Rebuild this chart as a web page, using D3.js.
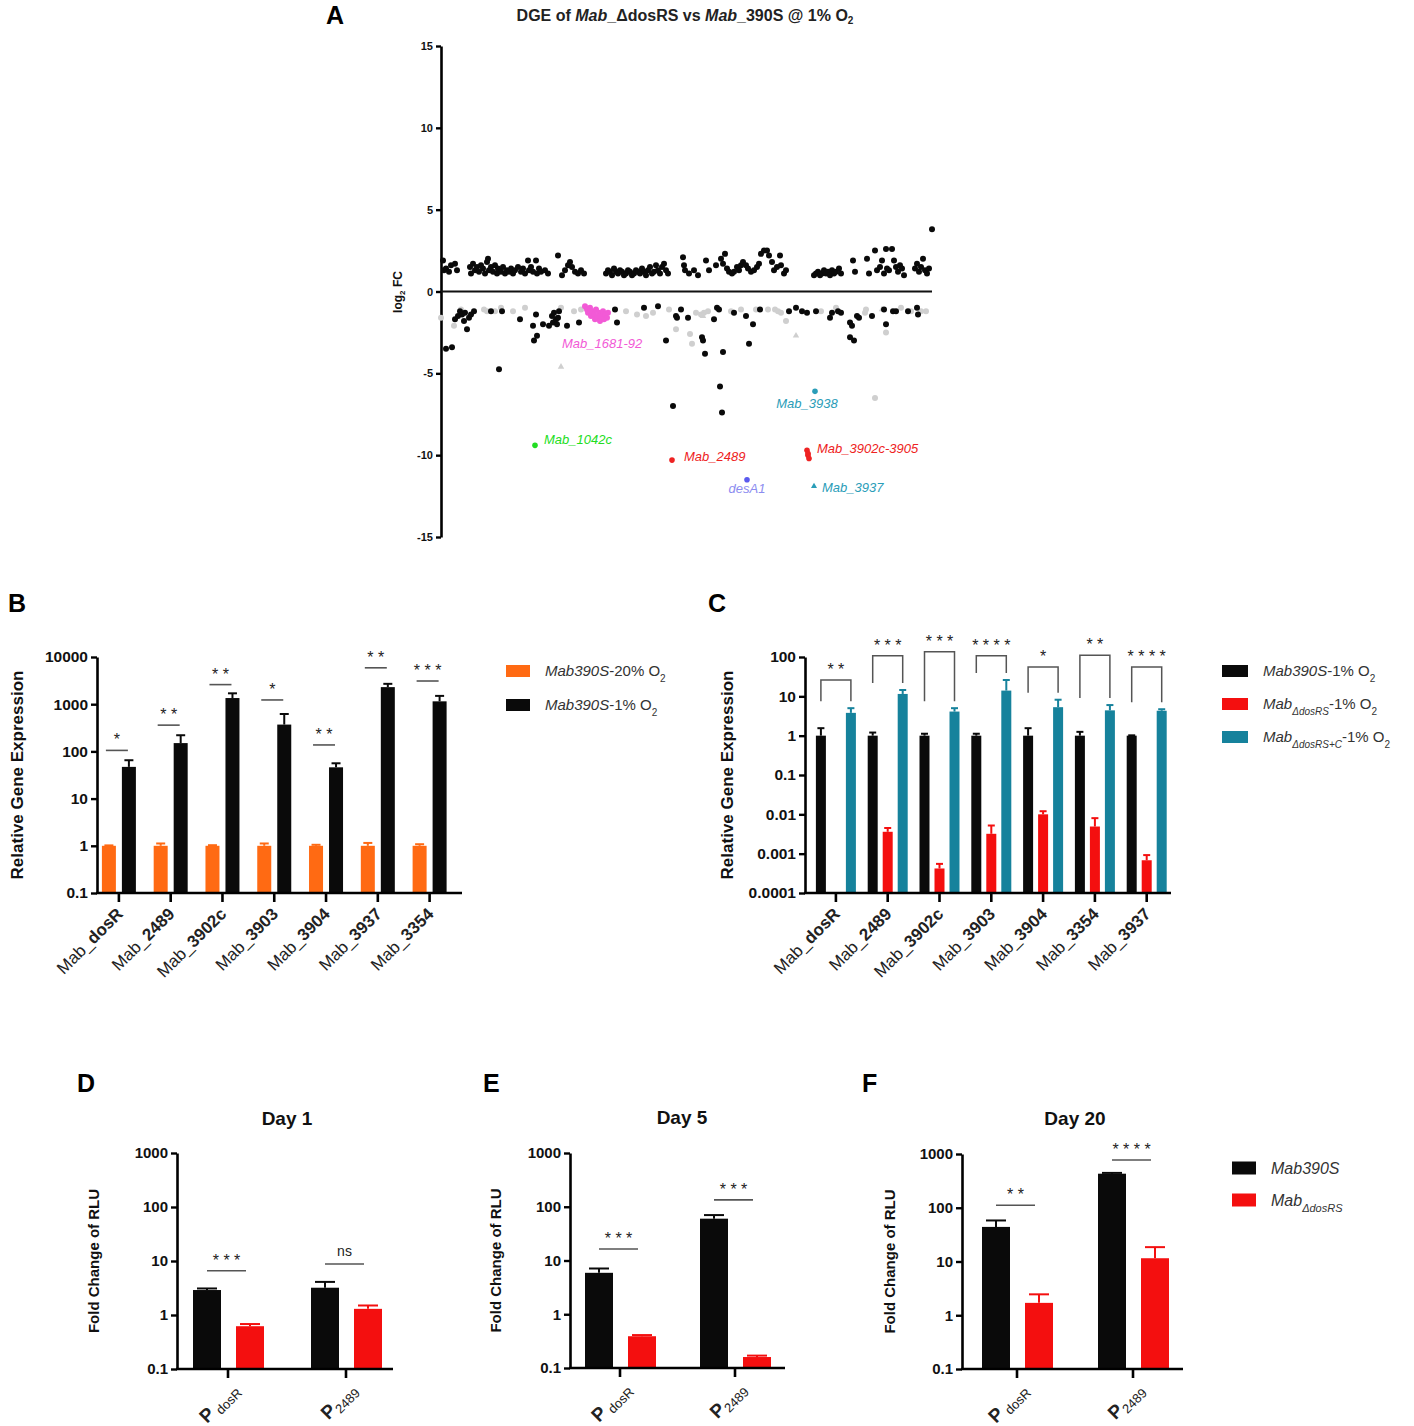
<!DOCTYPE html>
<html>
<head>
<meta charset="utf-8">
<script src="https://cdn.jsdelivr.net/npm/d3@7"></script>
<style>
  body { margin: 0; background: #fff; }
</style>
</head>
<body>
<div id="chart"></div>
<script>
// ---------- Panel A data: [gene index, log2FC] ----------
const upGenes = [
  [2,1.9],[3,1.3],[5,1.4],[8,1.2],[10,1.6],[14,1.7],[16,1.3],
  [29,1.5],[30,1.1],[32,1.7],[34,1.3],[36,1.5],[38,1.2],[40,1.6],[42,1.4],[44,1.1],[46,1.8],[47,2.0],
  [48,1.3],[50,1.5],[52,1.2],[54,1.6],[56,1.1],[57,1.4],[60,1.2],[62,1.5],[64,1.1],[66,1.3],[68,1.2],
  [70,1.4],[72,1.1],[74,1.3],[77,1.5],[80,1.2],[82,1.4],[84,1.1],[87,1.9],[88,1.3],[90,1.5],[92,1.2],
  [95,1.9],[96,1.1],[98,1.4],[100,1.2],[104,1.3],[107,1.1],[117,2.2],
  [121,1.0],[124,1.3],[127,1.6],[129,1.8],[131,1.5],[134,1.2],[137,1.1],[140,1.3],[143,1.1],
  [165,1.1],[167,1.3],[169,1.2],[171,1.0],[173,1.4],[175,1.2],[177,1.1],[179,1.3],[181,1.2],[183,1.0],
  [185,1.1],[187,1.3],[189,1.2],[191,1.0],[193,1.1],[195,1.3],[197,1.2],[199,1.1],[201,1.4],[203,1.2],
  [205,1.0],[207,1.3],[209,1.5],[211,1.1],[213,1.2],[215,1.6],[217,1.3],[219,1.1],[221,1.5],[223,1.7],
  [225,1.3],[227,1.1],
  [242,2.1],[243,1.6],[244,1.3],[248,1.1],[253,1.3],[257,1.0],[265,1.9],[268,1.3],[275,1.6],[280,2.0],
  [282,1.7],[284,2.3],[286,1.4],[288,1.2],[291,1.1],[293,1.2],[296,1.5],[298,1.3],[300,1.6],[302,1.8],
  [305,1.6],[307,1.4],[310,1.2],[313,1.3],[316,1.5],[318,1.7],[320,2.3],[323,2.5],[326,2.5],[328,2.2],
  [331,1.8],[333,1.3],[336,1.5],[339,2.2],[340,1.6],[343,1.1],[345,1.3],
  [373,1.0],[375,1.1],[377,1.2],[379,1.0],[381,1.1],[383,1.3],[385,1.1],[387,1.2],[389,1.0],[391,1.3],
  [393,1.1],[395,1.2],[398,1.4],[400,1.1],[412,1.9],[414,1.2],[426,2.0],[428,1.1],[434,2.5],[436,1.3],
  [439,1.5],[441,1.9],[443,1.1],[445,2.6],[446,1.4],[448,1.3],[451,2.6],[453,1.9],[455,1.5],[457,1.2],
  [459,1.6],[461,1.4],[463,1.0],[474,1.4],[476,1.7],[478,1.2],[480,1.5],[482,2.0],[484,1.3],[486,1.1],
  [488,1.4],[491,3.8]
];
const downGenes = [
  [5,-3.5],[11,-3.4],[14,-1.7],[17,-1.5],[19,-1.2],[21,-1.4],[23,-1.8],[24,-1.3],[26,-2.3],[28,-1.6],
  [30,-1.4],[33,-1.2],[50,-1.2],[58,-4.75],[61,-1.2],[79,-1.7],[92,-2.1],[93,-3.0],[96,-2.7],[95,-1.4],
  [102,-2.0],[108,-2.1],[111,-1.5],[112,-1.9],[113,-1.3],[115,-1.7],[116,-2.0],[117,-1.6],[118,-1.2],
  [126,-2.1],[138,-1.9],[174,-1.1],[176,-1.9],[203,-1.0],[217,-0.9],[225,-3.0],[232,-7.0],[235,-1.5],
  [236,-1.6],[240,-1.1],[247,-1.6],[261,-2.8],[262,-3.0],[264,-3.8],[273,-1.7],[276,-1.0],[278,-1.1],
  [279,-5.8],[281,-7.4],[282,-3.7],[293,-1.3],[305,-1.5],[308,-3.2],[312,-2.0],[319,-1.1],[348,-1.2],
  [355,-1.0],[361,-1.2],[366,-1.3],[375,-1.2],[389,-1.6],[391,-1.3],[397,-1.2],[400,-1.3],[409,-1.9],
  [411,-2.1],[409,-2.8],[413,-3.0],[416,-1.5],[418,-1.6],[431,-1.5],[443,-1.1],[445,-2.0],[452,-1.2],
  [455,-1.2],[467,-1.2],[476,-1.0],[477,-1.4]
];
const nsGenes = [
  [0,-1.6],[13,-2.1],[20,-1.1],[43,-1.1],[46,-1.2],[54,-1.2],[60,-1.0],[72,-1.2],[84,-1.0],[120,-1.0],
  [133,-1.2],[140,-1.1],[185,-1.2],[196,-1.4],[205,-1.5],[212,-1.3],[228,-1.1],[235,-2.3],[249,-2.6],
  [251,-3.2],[255,-1.3],[260,-1.4],[263,-1.3],[267,-1.2],[290,-1.2],[300,-1.1],[315,-1.1],[327,-1.1],
  [334,-1.1],[337,-1.2],[340,-1.3],[345,-1.8],[380,-1.2],[395,-1.0],[424,-1.3],[425,-1.1],[434,-6.5],
  [445,-2.5],[460,-1.0],[470,-1.2],[480,-1.2],[485,-1.2]
];
const nsTriangles = [[120,-4.6],[262,-1.5],[355,-2.7],[441,-1.1]];
const cluster1681 = [
  [144,-0.9],[146,-1.1],[147,-1.3],[149,-1.0],[150,-1.5],[151,-1.2],[153,-1.4],[154,-1.7],[155,-1.1],
  [156,-1.6],[158,-1.3],[159,-1.8],[160,-1.5],[162,-1.2],[163,-1.7],[164,-1.4],[166,-1.6],[167,-1.3]
];
const markedNames = ['Mab_1042c', 'Mab_2489', 'Mab_3902c-3905', 'Mab_3902c-3905', 'Mab_3902c-3905',
  'Mab_3902c-3905', 'desA1', 'Mab_3938', 'Mab_3937'];
const markedIdx = [94, 231, 366, 367, 368, 367, 306, 374, 373];
const markedFC = [-9.4, -10.3, -9.7, -10.0, -10.2, -9.9, -11.5, -6.1, -11.9];

// ---------- Panel B data ----------
const genesB = ['dosR', '2489', '3902c', '3903', '3904', '3937', '3354'];
const b20 = [1, 1, 1, 1, 1, 1, 1];
const b20Err = [1.02, 1.12, 1.03, 1.12, 1.05, 1.15, 1.08];
const b1 = [47, 150, 1350, 370, 46, 2300, 1150];
const b1Err = [65, 220, 1700, 620, 56, 2700, 1500];
const bSig = ['*', '* *', '* *', '*', '* *', '* *', '* * *'];
const bSigLevel = [105, 360, 2600, 1230, 137, 5900, 3100];

// ---------- Panel C data ----------
const genesC = ['dosR', '2489', '3902c', '3903', '3904', '3354', '3937'];
const c390 = [1, 1, 1, 1, 1, 1, 1];
const c390Err = [1.55, 1.2, 1.12, 1.12, 1.55, 1.25, 1.02];
const cDel = [null, 0.0036, 0.00042, 0.0032, 0.010, 0.0049, 0.00068];
const cDelErr = [null, 0.0045, 0.00055, 0.0052, 0.012, 0.008, 0.00092];
const cComp = [3.8, 11.5, 4.1, 14, 5.3, 4.4, 4.3];
const cCompErr = [5.0, 14.5, 5.0, 26, 8.2, 6.0, 4.7];
const cSig = ['* *', '* * *', '* * *', '* * * *', '*', '* *', '* * * *'];
const cSigLevel = [26, 107, 135, 107, 56, 110, 56];

// ---------- Panels D-F data ----------
const promoters = ['dosR', '2489'];
const day1WT = [2.9, 3.2], day1WTErr = [3.1, 4.1];
const day1Del = [0.62, 1.3], day1DelErr = [0.68, 1.5];
const day1Sig = ['* * *', 'ns'], day1SigLevel = [6.6, 8.8];
const day5WT = [5.9, 60], day5WTErr = [7.1, 70];
const day5Del = [0.39, 0.16], day5DelErr = [0.41, 0.17];
const day5Sig = ['* * *', '* * *'], day5SigLevel = [16.4, 134];
const day20WT = [44, 430], day20WTErr = [58, 445];
const day20Del = [1.7, 11.5], day20DelErr = [2.45, 18.5];
const day20Sig = ['* *', '* * * *'], day20SigLevel = [111, 775];

// ---------- styles ----------
const FONT = 'Arial, "Liberation Sans", Helvetica, sans-serif';
const ORANGE = '#ff6a13', BLACK = '#0a0a0a', RED = '#f40f0f', TEAL = '#16829c';
const markColor = {
  'Mab_1042c': '#22dd22', 'Mab_2489': '#ee2222', 'Mab_3902c-3905': '#ee2222',
  'desA1': '#5a5aee', 'Mab_3938': '#2a9db8', 'Mab_3937': '#2a9db8'
};
const markLabelColor = Object.assign({}, markColor, { 'desA1': '#8c8cf0' });
// label offsets [dx, dy, anchor] from the first point of each gene
const markLabelPos = {
  'Mab_1042c': [9, -1, 'start'], 'Mab_2489': [12, 1, 'start'], 'Mab_3902c-3905': [10, 3, 'start'],
  'desA1': [0, 13, 'middle'], 'Mab_3938': [-8, 17, 'middle'], 'Mab_3937': [8, 6, 'start']
};

const svg = d3.select('#chart').append('svg')
    .attr('width', 1414).attr('height', 1426)
    .style('font-family', FONT);

function panelLetter(x, y, s) {
  svg.append('text').attr('x', x).attr('y', y).attr('font-size', 25)
      .attr('font-weight', 'bold').attr('fill', '#000').text(s);
}

function styleAxis(sel, fontSize) {
  sel.select('.domain').attr('stroke', '#000').attr('stroke-width', 2.6);
  sel.selectAll('.tick line').attr('stroke', '#000').attr('stroke-width', 2.4);
  sel.selectAll('.tick text').attr('font-size', fontSize).attr('font-weight', 'bold')
      .attr('fill', '#111').attr('font-family', FONT);
}

// ======================= Panel A =======================
(function panelA() {
  const ax = d3.scaleLinear().domain([0, 491]).range([441, 932]);
  const ay = d3.scaleLinear().domain([-15, 15]).range([537, 46]);
  const g = svg.append('g');

  const t = g.append('text').attr('x', 685).attr('y', 21).attr('text-anchor', 'middle')
      .attr('font-size', 16).attr('font-weight', 'bold').attr('fill', '#222');
  t.append('tspan').text('DGE of ');
  t.append('tspan').attr('font-style', 'italic').text('Mab');
  t.append('tspan').text('_ΔdosRS vs ');
  t.append('tspan').attr('font-style', 'italic').text('Mab');
  t.append('tspan').text('_390S @ 1% O');
  t.append('tspan').attr('font-size', 10).attr('dy', 3).text('2');

  const yl = g.append('text').attr('transform', 'translate(402,292) rotate(-90)')
      .attr('text-anchor', 'middle').attr('font-size', 12).attr('font-weight', 'bold').attr('fill', '#111');
  yl.append('tspan').text('log');
  yl.append('tspan').attr('font-size', 8).attr('dy', 3).text('2');
  yl.append('tspan').attr('dy', -3).text(' FC');

  const yAxis = g.append('g').attr('transform', 'translate(441,0)')
      .call(d3.axisLeft(ay).tickValues([-15, -10, -5, 0, 5, 10, 15])
          .tickFormat(d => String(d)).tickSize(5).tickSizeOuter(0));
  styleAxis(yAxis, 11);

  g.append('line').attr('x1', ax.range()[0]).attr('x2', ax.range()[1])
      .attr('y1', ay(0)).attr('y2', ay(0)).attr('stroke', '#111').attr('stroke-width', 2.2);

  const dot = (data, color) => g.append('g').selectAll('circle').data(data).join('circle')
      .attr('cx', d => ax(d[0])).attr('cy', d => ay(d[1])).attr('r', 3).attr('fill', color);

  dot(nsGenes, '#cfcfcf');
  g.append('g').selectAll('path').data(nsTriangles).join('path')
      .attr('transform', d => `translate(${ax(d[0])},${ay(d[1])})`)
      .attr('d', d3.symbol(d3.symbolTriangle, 18)).attr('fill', '#cfcfcf');
  dot(upGenes, BLACK);
  dot(downGenes, BLACK);
  dot(cluster1681, '#f25ad6');

  markedNames.forEach((name, i) => {
    const x = ax(markedIdx[i]), y = ay(markedFC[i]);
    if (name === 'Mab_3937') {
      g.append('path').attr('transform', `translate(${x},${y})`)
          .attr('d', d3.symbol(d3.symbolTriangle, 16)).attr('fill', markColor[name]);
    } else {
      g.append('circle').attr('cx', x).attr('cy', y).attr('r', 2.8).attr('fill', markColor[name]);
    }
  });

  const seen = new Set();
  markedNames.forEach((name, i) => {
    if (seen.has(name)) return;
    seen.add(name);
    const p = markLabelPos[name];
    g.append('text').attr('x', ax(markedIdx[i]) + p[0]).attr('y', ay(markedFC[i]) + p[1])
        .attr('text-anchor', p[2]).attr('font-size', 13).attr('font-style', 'italic')
        .attr('fill', markLabelColor[name]).text(name);
  });

  g.append('text').attr('x', ax(cluster1681[0][0]) - 23).attr('y', ay(cluster1681[0][1]) + 42)
      .attr('font-size', 13).attr('font-style', 'italic').attr('fill', '#f25ad6').text('Mab_1681-92');
})();

// ======================= bar panels =======================
function subText(sel, parts) {
  parts.forEach(p => {
    const ts = sel.append('tspan').text(p.t);
    if (p.i) ts.attr('font-style', 'italic');
    if (p.b) ts.attr('font-weight', 'bold');
    if (p.sub) ts.attr('font-size', p.sub).attr('baseline-shift', 'sub');
  });
}

function barPanel(o) {
  const g = svg.append('g');
  const y = d3.scaleLog().domain(o.yDomain).range([o.yBottom, o.yTop]);
  const x = d3.scaleBand().domain(o.cats).range(o.xRange);
  const cx = (c, s) => x(c) + x.bandwidth() / 2 + s.offset;

  o.series.forEach(s => {
    const rows = o.cats.map((c, i) => ({ c, v: s.values[i], e: s.errs[i] })).filter(d => d.v != null);
    const sg = g.append('g');
    sg.selectAll('line.err').data(rows).join('line').attr('class', 'err')
        .attr('x1', d => cx(d.c, s)).attr('x2', d => cx(d.c, s))
        .attr('y1', d => y(d.v)).attr('y2', d => y(d.e))
        .attr('stroke', s.color).attr('stroke-width', 2);
    sg.selectAll('line.cap').data(rows).join('line').attr('class', 'cap')
        .attr('x1', d => cx(d.c, s) - o.capW / 2).attr('x2', d => cx(d.c, s) + o.capW / 2)
        .attr('y1', d => y(d.e)).attr('y2', d => y(d.e))
        .attr('stroke', s.color).attr('stroke-width', 2);
    sg.selectAll('rect').data(rows).join('rect')
        .attr('x', d => cx(d.c, s) - o.barW / 2).attr('y', d => y(d.v))
        .attr('width', o.barW).attr('height', d => o.yBottom - y(d.v))
        .attr('fill', s.color);
  });

  // significance marks
  const sA = o.series[0], sB = o.series[o.series.length - 1];
  o.cats.forEach((c, i) => {
    const xl = cx(c, sA), xr = cx(c, sB) + (o.bracket ? 0 : -4);
    const yt = y(o.sigLevel[i]);
    if (o.bracket) {
      const top = Math.max(sA.errs[i], sB.errs[i]);
      const yb = y(top) - 7;
      g.append('path').attr('d', `M${xl},${yb}V${yt}H${xr}V${yb}`)
          .attr('fill', 'none').attr('stroke', '#555').attr('stroke-width', 1.5);
    } else {
      g.append('line').attr('x1', xl - o.sigPad).attr('x2', xr + o.sigPad).attr('y1', yt).attr('y2', yt)
          .attr('stroke', '#555').attr('stroke-width', 1.6);
    }
    const ns = o.sig[i] === 'ns';
    g.append('text').attr('x', (xl + xr) / 2).attr('y', yt - (ns ? 8 : 5))
        .attr('text-anchor', 'middle').attr('font-size', ns ? 14 : 16).attr('fill', '#222')
        .text(o.sig[i]);
  });

  // axes
  const yAxis = g.append('g').attr('transform', `translate(${o.axisX},0)`)
      .call(d3.axisLeft(y).tickValues(o.yTicks).tickFormat(d => String(d)).tickSize(6).tickSizeOuter(0));
  styleAxis(yAxis, o.tickFont);
  g.append('line').attr('x1', o.axisX - 1).attr('x2', o.xEnd)
      .attr('y1', o.yBottom).attr('y2', o.yBottom).attr('stroke', '#000').attr('stroke-width', 2.6);
  const xAxis = g.append('g').attr('transform', `translate(0,${o.yBottom})`)
      .call(d3.axisBottom(x).tickSize(9).tickFormat(''));
  xAxis.select('.domain').remove();
  xAxis.selectAll('.tick line').attr('stroke', '#000').attr('stroke-width', 2.6);

  // category labels
  o.cats.forEach(c => {
    const t = g.append('text')
        .attr('transform', `translate(${x(c) + x.bandwidth() / 2 + o.labelDx},${o.yBottom + o.labelDy}) rotate(-45)`)
        .attr('text-anchor', 'end').attr('fill', '#222');
    o.catLabel(t, c);
  });

  // y title
  g.append('text').attr('transform', `translate(${o.yTitleX},${(o.yTop + o.yBottom) / 2}) rotate(-90)`)
      .attr('text-anchor', 'middle').attr('font-size', o.yTitleSize).attr('font-weight', 'bold')
      .attr('fill', '#111').text(o.yTitle);

  if (o.title) {
    g.append('text').attr('x', o.title[1]).attr('y', o.title[2]).attr('text-anchor', 'middle')
        .attr('font-size', 19).attr('font-weight', 'bold').attr('fill', '#111').text(o.title[0]);
  }
}

const geneCat = (t, c) => {
  t.attr('font-size', 17);
  t.append('tspan').text('Mab_');
  t.append('tspan').attr('font-weight', 'bold').text(c);
};
const promoterCat = (t, c) => {
  t.append('tspan').attr('font-size', 19).attr('font-weight', 'bold').text('P');
  t.append('tspan').attr('font-size', 13).attr('dy', 4).text(c === 'dosR' ? ' dosR' : c);
};

// Panel B
barPanel({
  cats: genesB, yDomain: [0.1, 10000], yTicks: [0.1, 1, 10, 100, 1000, 10000],
  yTop: 657, yBottom: 893, xRange: [93, 455.5], axisX: 97, xEnd: 462,
  barW: 14, capW: 9, tickFont: 15.5,
  series: [
    { values: b20, errs: b20Err, color: ORANGE, offset: -10 },
    { values: b1, errs: b1Err, color: BLACK, offset: 10 }
  ],
  sig: bSig, sigLevel: bSigLevel, sigPad: 3, bracket: false,
  labelDx: 5, labelDy: 22, catLabel: geneCat,
  yTitle: 'Relative Gene Expression', yTitleX: 23, yTitleSize: 17
});

// Panel C
barPanel({
  cats: genesC, yDomain: [0.0001, 100], yTicks: [0.0001, 0.001, 0.01, 0.1, 1, 10, 100],
  yTop: 657, yBottom: 893, xRange: [810, 1172.6], axisX: 805, xEnd: 1171,
  barW: 10, capW: 7, tickFont: 15.5,
  series: [
    { values: c390, errs: c390Err, color: BLACK, offset: -15 },
    { values: cDel, errs: cDelErr, color: RED, offset: 0 },
    { values: cComp, errs: cCompErr, color: TEAL, offset: 15 }
  ],
  sig: cSig, sigLevel: cSigLevel, bracket: true,
  labelDx: 5, labelDy: 22, catLabel: geneCat,
  yTitle: 'Relative Gene Expression', yTitleX: 733, yTitleSize: 17
});

const rluPanel = (wt, wtErr, del, delErr, sig, sigLevel, geom) => barPanel({
  cats: promoters, yDomain: [0.1, 1000], yTicks: [0.1, 1, 10, 100, 1000],
  yTop: geom.yTop, yBottom: geom.yBottom, xRange: geom.xRange, axisX: geom.axisX, xEnd: geom.xEnd,
  barW: 28, capW: 20, tickFont: 15,
  series: [
    { values: wt, errs: wtErr, color: BLACK, offset: -21 },
    { values: del, errs: delErr, color: RED, offset: 22 }
  ],
  sig, sigLevel, sigPad: 0, bracket: false,
  labelDx: 12, labelDy: 22, catLabel: promoterCat,
  yTitle: 'Fold Change of RLU', yTitleX: geom.yTitleX, yTitleSize: 15, title: geom.title
});

rluPanel(day1WT, day1WTErr, day1Del, day1DelErr, day1Sig, day1SigLevel,
  { yTop: 1153, yBottom: 1369, xRange: [169, 405], axisX: 177, xEnd: 393, yTitleX: 99, title: ['Day 1', 287, 1125] });
rluPanel(day5WT, day5WTErr, day5Del, day5DelErr, day5Sig, day5SigLevel,
  { yTop: 1153, yBottom: 1368, xRange: [562.5, 792.5], axisX: 570, xEnd: 785, yTitleX: 501, title: ['Day 5', 682, 1124] });
rluPanel(day20WT, day20WTErr, day20Del, day20DelErr, day20Sig, day20SigLevel,
  { yTop: 1154, yBottom: 1369, xRange: [959, 1191], axisX: 962, xEnd: 1183, yTitleX: 895, title: ['Day 20', 1075, 1125] });

// ---------- legends ----------
function legendRow(x, y, color, w, h, size, parts) {
  svg.append('rect').attr('x', x).attr('y', y - h / 2).attr('width', w).attr('height', h).attr('fill', color);
  const t = svg.append('text').attr('x', x + w + 15).attr('y', y + size * 0.36)
      .attr('font-size', size).attr('fill', '#333');
  subText(t, parts);
}
legendRow(506, 671, ORANGE, 24, 12, 15, [{ t: 'Mab390S', i: true }, { t: '-20% O' }, { t: '2', sub: 10 }]);
legendRow(506, 705, BLACK, 24, 12, 15, [{ t: 'Mab390S', i: true }, { t: '-1% O' }, { t: '2', sub: 10 }]);

legendRow(1222, 671, BLACK, 26, 12, 15, [{ t: 'Mab390S', i: true }, { t: '-1% O' }, { t: '2', sub: 10 }]);
legendRow(1222, 704, RED, 26, 12, 15, [{ t: 'Mab', i: true }, { t: 'ΔdosRS', i: true, sub: 10 }, { t: '-1% O' }, { t: '2', sub: 10 }]);
legendRow(1222, 737, TEAL, 26, 12, 15, [{ t: 'Mab', i: true }, { t: 'ΔdosRS+C', i: true, sub: 10 }, { t: '-1% O' }, { t: '2', sub: 10 }]);

legendRow(1232, 1168, BLACK, 24, 13, 16, [{ t: 'Mab390S', i: true }]);
legendRow(1232, 1200, RED, 24, 13, 16, [{ t: 'Mab', i: true }, { t: 'ΔdosRS', i: true, sub: 11 }]);

// ---------- panel letters ----------
panelLetter(326, 24, 'A');
panelLetter(8, 612, 'B');
panelLetter(708, 612, 'C');
panelLetter(77, 1092, 'D');
panelLetter(483, 1092, 'E');
panelLetter(862, 1092, 'F');
</script>
</body>
</html>
